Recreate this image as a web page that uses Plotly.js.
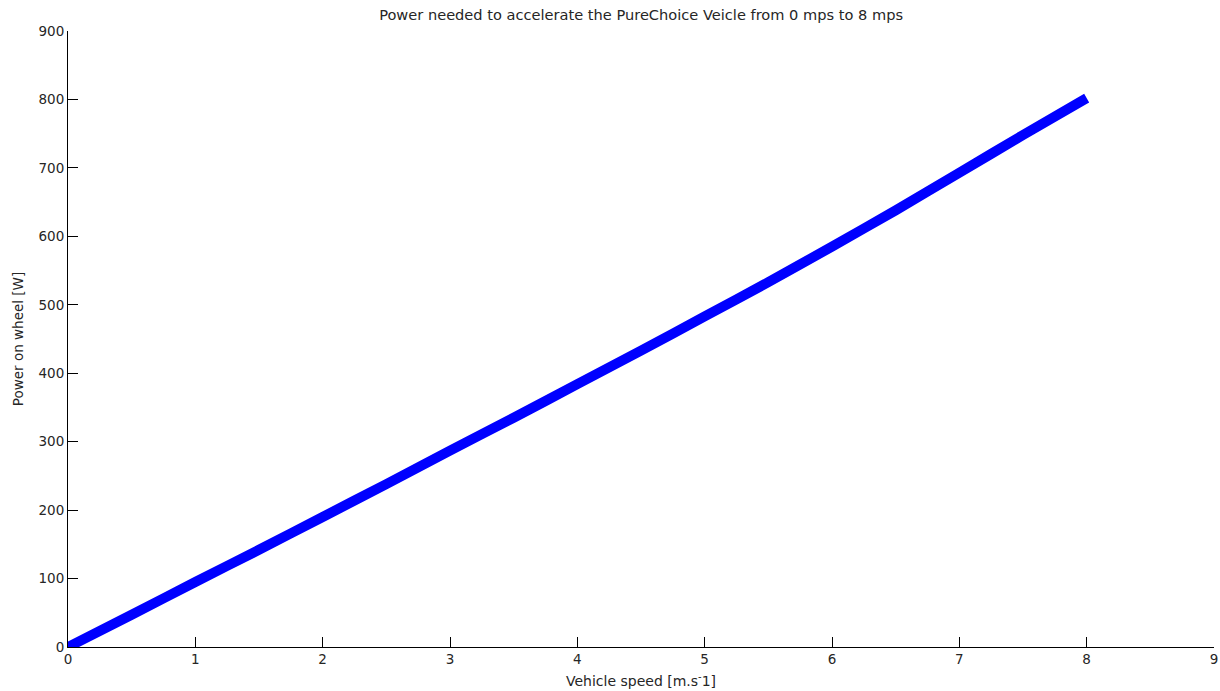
<!DOCTYPE html>
<html>
<head>
<meta charset="utf-8">
<script src="https://cdn.plot.ly/plotly-3.0.1.min.js"></script>
<style>html,body{margin:0;padding:0;background:#fff;}#chart{width:1220px;height:691px;}</style>
</head>
<body>
<div id="chart"></div>
<script>
// Vehicle speed [m/s]
const speed = [0, 0.5, 1, 1.5, 2, 2.5, 3, 3.5, 4, 4.5, 5, 5.5, 6, 6.5, 7, 7.5, 8];
// Power on wheel [W]
const power = [0, 47, 95, 142, 190, 238, 287, 335, 384, 433, 483, 533, 585, 638, 693, 748, 802];

const xTicks = [0, 1, 2, 3, 4, 5, 6, 7, 8, 9];
const yTicks = [0, 100, 200, 300, 400, 500, 600, 700, 800, 900];

const fontFam = 'DejaVu Sans, Verdana, sans-serif';
const textColor = '#262626';

const trace = {
  x: speed,
  y: power,
  type: 'scatter',
  mode: 'lines',
  line: {color: '#0000ff', width: 10, shape: 'spline', smoothing: 0.6},
  showlegend: false,
  hoverinfo: 'x+y'
};

const axisCommon = {
  showgrid: false,
  zeroline: false,
  showline: true,
  linecolor: '#000',
  linewidth: 1,
  ticks: 'inside',
  ticklen: 10,
  tickwidth: 1,
  tickcolor: '#000',
  tickfont: {family: fontFam, size: 13.5, color: textColor},
  mirror: false,
  automargin: false
};

const layout = {
  width: 1220,
  height: 691,
  paper_bgcolor: '#fff',
  plot_bgcolor: '#fff',
  margin: {l: 68, r: 6, t: 31, b: 44},
  title: {
    text: 'Power needed to accelerate the PureChoice Veicle from 0 mps to 8 mps',
    font: {family: fontFam, size: 14.6, color: textColor},
    x: 0.5255, xanchor: 'center',
    y: 0.978, yanchor: 'middle'
  },
  xaxis: Object.assign({}, axisCommon, {
    range: [0, 9],
    tickvals: xTicks,
    ticktext: xTicks.map(String),
    title: {text: 'Vehicle speed [m.s<sup>-</sup>1]', font: {family: fontFam, size: 14, color: textColor}, standoff: 9}
  }),
  yaxis: Object.assign({}, axisCommon, {
    range: [0, 900],
    tickvals: yTicks,
    ticktext: yTicks.map(String),
    title: {text: 'Power on wheel [W]', font: {family: fontFam, size: 13.5, color: textColor}, standoff: 11}
  })
};

Plotly.newPlot('chart', [trace], layout, {displayModeBar: false, staticPlot: true});
</script>
</body>
</html>
